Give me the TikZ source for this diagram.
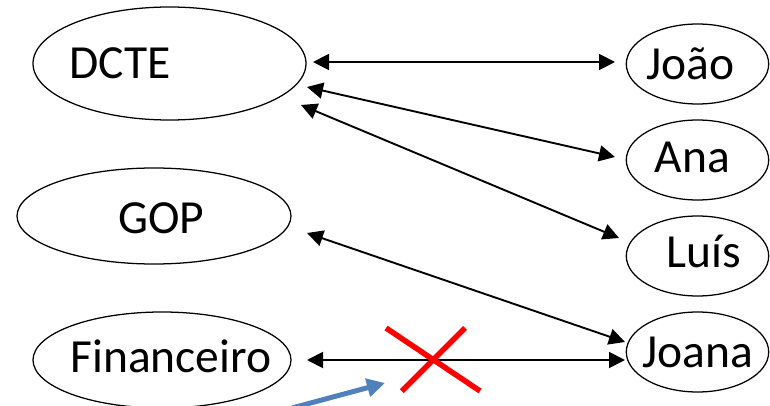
\documentclass[tikz,border=0pt]{standalone}
\usepackage{fontspec}
\setmainfont{Carlito}
\usetikzlibrary{arrows.meta,shapes.geometric,calc}
\definecolor{officeblue}{RGB}{79,129,189}

\begin{document}
\begin{tikzpicture}[
  every node/.style={font=\fontsize{33.8}{40}\selectfont},
  org/.style={draw,ellipse,inner sep=0pt,line width=0.9pt,minimum width=6.85cm,minimum height=2.4cm},
  person/.style={draw,ellipse,inner sep=0pt,line width=0.9pt,minimum width=3.56cm,minimum height=2cm},
  >={Triangle[length=0.4cm,width=0.4cm]},
  link/.style={<->,line width=1.35pt}
]
\useasboundingbox (0,0) rectangle (19.25,10.125);

\node[org,minimum width=6.825cm,minimum height=2.825cm] (dcte) at (4.2375,8.5375) {};
\node[org] (gop) at (3.85,4.725) {};
\node[org,minimum width=6.45cm] (fin) at (4.05,1.125) {};
\node[person] (joao) at (17.4375,8.525) {};
\node[person] (ana) at (17.4375,6.125) {};
\node[person] (luis) at (17.4375,3.725) {};
\node[person] (joana) at (17.4375,1.325) {};

\node (dcte-t) at ($(dcte)+(-1.2375,0)$) {DCTE};
\node (gop-t) at ($(gop)+(0.1875,-0.0625)$) {GOP};
\node (fin-t) at ($(fin)+(0.225,0.1)$) {Financeiro};
\node (joao-t) at ($(joao)+(-0.175,0)$) {João};
\node (ana-t) at ($(ana)+(-0.13,0.075)$) {Ana};
\node (luis-t) at ($(luis)+(0.15,0.11)$) {Luís};
\node (joana-t) at ($(joana)+(0,0)$) {Joana};

\draw[link] ($(dcte)+(3.5875,0.0375)$) -- ($(joao)+(-2.0625,0.05)$);
\draw[link] ($(dcte)+(3.4375,-0.5875)$) -- ($(ana)+(-2.0625,0.075)$);
\draw[link] ($(dcte)+(3.2875,-1.0375)$) -- ($(luis)+(-1.9625,0.45)$);
\draw[link] ($(gop)+(3.825,-0.425)$) -- ($(joana)+(-1.8125,0.25)$);
\draw[link] ($(fin)+(3.625,0)$) -- ($(joana)+(-1.8125,-0.2)$);

% cross over the Financeiro link
\coordinate (cross) at (10.825,1.125);
\draw[red,line width=3.9pt] ($(cross)+(-1.175,0.8)$) -- ($(cross)+(1.175,-0.775)$);
\draw[red,line width=3.9pt] ($(cross)+(0.8,0.8)$) -- ($(cross)+(-0.78,-0.78)$);

% blue pointer
\coordinate (ptr-a) at (7.3,-0.075);
\coordinate (ptr-b) at (9.625,0.55);
\draw[-{Triangle[length=0.45cm,width=0.45cm]},line width=0.125cm,officeblue] (ptr-a) -- (ptr-b);

\end{tikzpicture}
\end{document}
